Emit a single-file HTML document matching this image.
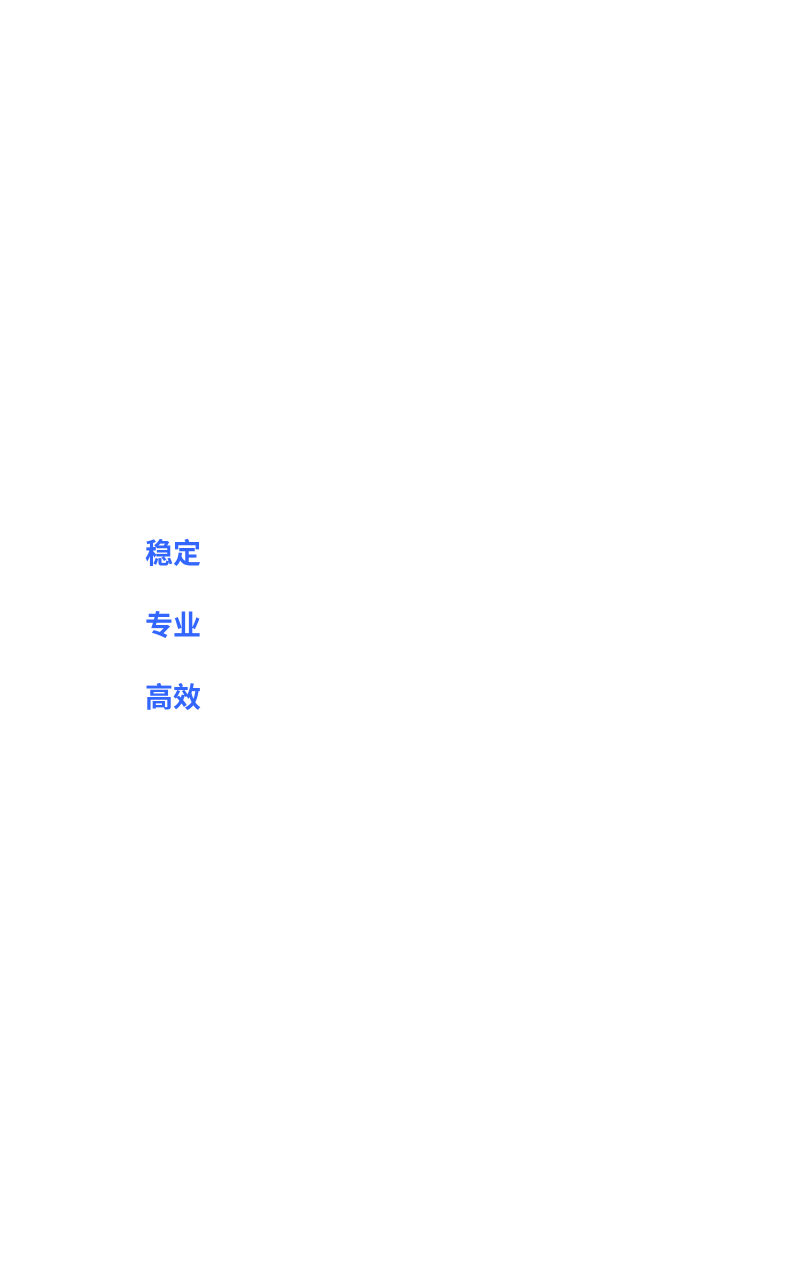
<!DOCTYPE html>
<html><head><meta charset="utf-8"><style>
html,body{margin:0;padding:0;background:#fff;width:801px;height:1280px;overflow:hidden;}
.t{position:absolute;left:145px;font-family:"Liberation Sans","Noto Sans CJK SC",sans-serif;font-weight:bold;font-size:28px;line-height:28px;color:#3366ff;white-space:nowrap;}
</style></head><body>
<div class="t" style="top:540px">稳定</div>
<div class="t" style="top:612px">专业</div>
<div class="t" style="top:684px">高效</div>
</body></html>
